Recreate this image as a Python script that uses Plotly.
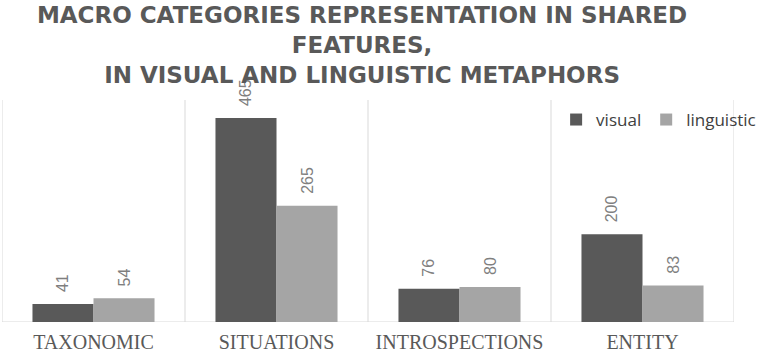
import plotly.graph_objects as go

categories = ["TAXONOMIC", "SITUATIONS", "INTROSPECTIONS", "ENTITY"]
visual = [41, 465, 76, 200]
linguistic = [54, 265, 80, 83]
series_names = ["visual", "linguistic"]

title_lines = ["MACRO CATEGORIES REPRESENTATION IN SHARED", "FEATURES,",
               "IN VISUAL AND LINGUISTIC METAPHORS"]

fig = go.Figure()
for name, vals, col in [(series_names[0], visual, "#595959"),
                        (series_names[1], linguistic, "#a5a5a5")]:
    fig.add_trace(go.Bar(
        name=name, x=categories, y=vals, marker_color=col,
        text=[str(v) for v in vals], texttemplate="\u00a0\u00a0%{text}",
        textposition="outside", textangle=-90,
        textfont=dict(family="Liberation Sans", size=16, color="#7f7f7f"),
        cliponaxis=False, constraintext="none",
    ))

n = len(categories)
shapes = [dict(type="line", xref="x", yref="paper", x0=k - 0.5, x1=k - 0.5,
               y0=0, y1=1, line=dict(color="#d9d9d9", width=1), layer="below")
          for k in range(n + 1)]
shapes.append(dict(type="line", xref="paper", yref="y", x0=0, x1=1, y0=0, y1=0,
                   line=dict(color="#d9d9d9", width=1), layer="below"))

fig.update_layout(
    template="none",
    width=759, height=354,
    margin=dict(l=2, r=25, t=100, b=32, autoexpand=False),
    paper_bgcolor="white", plot_bgcolor="white",
    barmode="group", bargap=0.333, bargroupgap=0,
    title=dict(text="<br>".join(title_lines), x=0.477, xanchor="center",
               y=0.935, yanchor="top",
               font=dict(family="DejaVu Sans", size=23, color="#595959", weight="bold")),
    xaxis=dict(showgrid=False, showline=False, ticks="", automargin=False,
               ticklabelstandoff=6,
               tickfont=dict(family="Liberation Serif", size=20, color="#595959"),
               range=[-0.5, n - 0.5]),
    yaxis=dict(range=[0, 506], showgrid=False, showticklabels=False, automargin=False,
               zeroline=False, showline=False),
    legend=dict(orientation="h", x=0.757, xanchor="left", y=0.91, yanchor="middle",
                font=dict(family="Open Sans", size=17, color="#404040"),
                bgcolor="rgba(0,0,0,0)", traceorder="normal", itemwidth=30),
    shapes=shapes,
    showlegend=True,
)

fig.write_html("out.html", config={"displayModeBar": False},
               post_script="document.body.style.margin='0';")
